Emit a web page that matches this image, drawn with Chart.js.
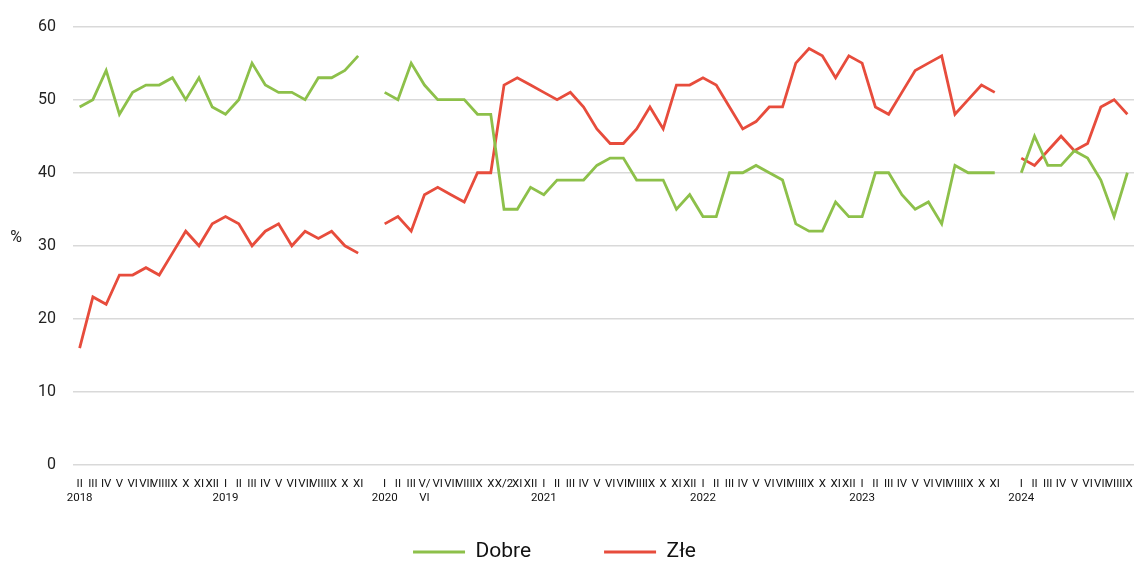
<!DOCTYPE html>
<html>
<head>
<meta charset="utf-8">
<script src="https://cdn.jsdelivr.net/npm/chart.js@4.4.1/dist/chart.umd.min.js"></script>
<style>
  html, body { margin: 0; padding: 0; background: #ffffff; }
  #wrap { width: 1134px; height: 561px; position: relative; }
</style>
</head>
<body>
<div id="wrap"><canvas id="c"></canvas></div>
<script>
// Month labels (one category per survey), '' = gap between series blocks
const months = [
  // 2018
  'II','III','IV','V','VI','VII','VIII','IX','X','XI','XII',
  // 2019
  'I','II','III','IV','V','VI','VII','VIII','IX','X','XI',
  '',
  // 2020
  'I','II','III',['V/','VI'],'VI','VII','VIII','IX','X','X/2','XI','XII',
  // 2021
  'I','II','III','IV','V','VI','VII','VIII','IX','X','XI','XII',
  // 2022
  'I','II','III','IV','V','VI','VII','VIII','IX','X','XI','XII',
  // 2023
  'I','II','III','IV','V','VI','VII','VIII','IX','X','XI',
  '',
  // 2024
  'I','II','III','IV','V','VI','VII','VIII','IX'
];
// Year shown under the first month of each year (index in months)
const yearLabels = { 0: '2018', 11: '2019', 23: '2020', 35: '2021', 47: '2022', 59: '2023', 71: '2024' };

const dobre = [
  49,50,54,48,51,52,52,53,50,53,49,
  48,50,55,52,51,51,50,53,53,54,56,
  null,
  51,50,55,52,50,50,50,48,48,35,35,38,
  37,39,39,39,41,42,42,39,39,39,35,37,
  34,34,40,40,41,40,39,33,32,32,36,34,
  34,40,40,37,35,36,33,41,40,40,40,
  null,
  40,45,41,41,43,42,39,34,40
];
const zle = [
  16,23,22,26,26,27,26,29,32,30,33,
  34,33,30,32,33,30,32,31,32,30,29,
  null,
  33,34,32,37,38,37,36,40,40,52,53,52,
  51,50,51,49,46,44,44,46,49,46,52,52,
  53,52,49,46,47,49,49,55,57,56,53,56,
  55,49,48,51,54,55,56,48,50,52,51,
  null,
  42,41,43,45,43,44,49,50,48
];
const seriesNames = ['Dobre', 'Złe'];
const yUnit = '%';
const yTicks = { min: 0, max: 60, step: 10 };

const GREEN = '#8dc04a';
const RED = '#e74c3c';

const labels = months.map((m, i) => {
  const y = yearLabels[i];
  if (y) return [m, y];
  return m;
});

const unitPlugin = {
  id: 'unitLabel',
  afterLayout(chart) {
    // centre the legend row under the page like the original
    if (chart.legend) { chart.legend.left -= 25; chart.legend.right -= 25; }
  },
  afterDraw(chart) {
    const { ctx, chartArea } = chart;
    ctx.save();
    ctx.font = '16px Roboto';
    ctx.fillStyle = '#222222';
    ctx.textAlign = 'center';
    ctx.textBaseline = 'middle';
    ctx.fillText(yUnit, 16, (chartArea.top + chartArea.bottom) / 2 - 8);
    ctx.restore();
  }
};

new Chart(document.getElementById('c'), {
  type: 'line',
  data: {
    labels: labels,
    datasets: [
      { label: seriesNames[0], data: dobre, borderColor: GREEN, backgroundColor: GREEN,
        borderWidth: 2.8, pointRadius: 0, pointHoverRadius: 0, tension: 0, spanGaps: false },
      { label: seriesNames[1], data: zle, borderColor: RED, backgroundColor: RED,
        borderWidth: 2.8, pointRadius: 0, pointHoverRadius: 0, tension: 0, spanGaps: false }
    ]
  },
  options: {
    responsive: true,
    maintainAspectRatio: false,
    animation: false,
    layout: { padding: { left: 25, right: 0, top: 24, bottom: 0 } },
    plugins: {
      tooltip: { enabled: false },
      legend: {
        position: 'bottom',
        maxHeight: 19.5,
        onClick: () => {},
        labels: {
          boxWidth: 52,
          boxHeight: 3,
          padding: 0,
          color: '#111111',
          font: { family: 'Roboto', size: 21 },
          generateLabels(chart) {
            const items = Chart.defaults.plugins.legend.labels.generateLabels(chart);
            items.forEach(it => { it.lineWidth = 0; });
            items.splice(1, 0, {
              text: '  ', fillStyle: 'rgba(0,0,0,0)', strokeStyle: 'rgba(0,0,0,0)',
              fontColor: 'rgba(0,0,0,0)', lineWidth: 0, hidden: false
            });
            return items;
          }
        }
      }
    },
    scales: {
      x: {
        offset: true,
        grid: { display: false, drawTicks: false },
        border: { display: false },
        ticks: {
          autoSkip: false,
          maxRotation: 0,
          minRotation: 0,
          padding: 12,
          color: '#111111',
          font: { family: 'Roboto', size: 11.5, lineHeight: 1.25 }
        },
        afterFit(s) { s.height = 76.5; s.paddingLeft = 0; s.paddingRight = 0; }
      },
      y: {
        min: yTicks.min,
        max: yTicks.max,
        grid: { color: '#d9d9d9', lineWidth: 1.5, drawTicks: false },
        border: { display: false },
        ticks: {
          stepSize: yTicks.step,
          padding: 17,
          color: '#222222',
          font: { family: 'Roboto', size: 16 }
        },
        afterFit(s) { s.width = 48; }
      }
    }
  },
  plugins: [unitPlugin]
});
</script>
</body>
</html>
